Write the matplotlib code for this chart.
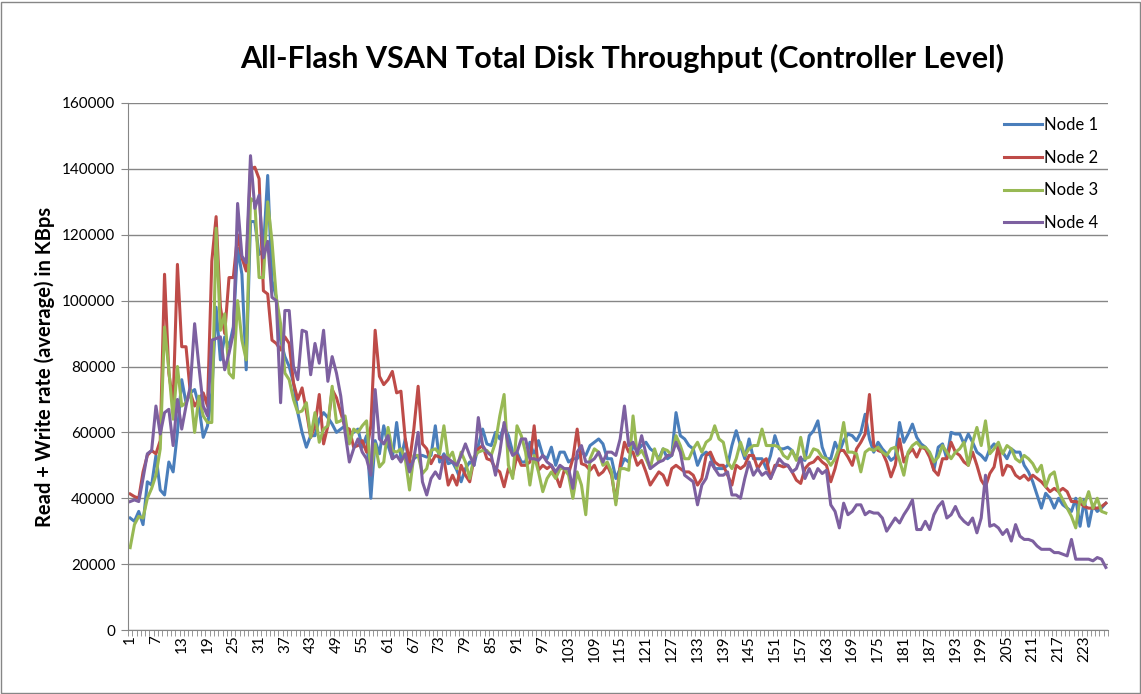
import matplotlib
matplotlib.use("Agg")
import matplotlib.pyplot as plt
import numpy as np
from matplotlib.lines import Line2D
from matplotlib.patches import Rectangle

plt.rcParams["font.family"] = ["Lato", "DejaVu Sans"]

TITLE = "All-Flash VSAN Total Disk Throughput (Controller Level)"
Y_LABEL = "Read + Write rate (average) in KBps"
SERIES_NAMES = ["Node 1", "Node 2", "Node 3", "Node 4"]
SERIES_COLORS = ["#4a7ebb", "#be4b48", "#98b954", "#7d60a0"]
Y_TICKS = [0, 20000, 40000, 60000, 80000, 100000, 120000, 140000, 160000]

# read + write rate per sample, KBps (samples 1..228)
node1 = [
    34000, 33000, 36000, 32000, 45000, 44000, 53000, 42500, 41000, 51000, 48000, 60000, 76000, 69000, 72000, 73000,
    68000, 58500, 62000, 72000, 98000, 82000, 89000, 86000, 92000, 116000, 108000, 79000, 124000, 124000, 114000,
    115500, 138000, 106000, 101000, 88000, 83000,
    80000, 75000, 66000, 60000, 55500, 59000, 59000, 64000, 66000, 64500, 62500, 60000, 61000, 62000, 60000, 60000,
    61000, 55500, 59000, 40000, 57500, 53500, 62000, 56000, 52000, 63000, 52000, 58000, 49500, 52000, 53000, 53000,
    52500, 53000, 62000, 51000, 53500, 50500,
    51000, 48500, 45000, 49000, 51000, 50000, 56000, 61000, 56500, 56000, 60000, 58000, 62000, 59000, 54000, 54000,
    51000, 51000, 57000, 53000, 57500, 53000, 52000, 55500, 50000, 54000, 54000, 51000, 52000, 52000, 54000, 53000,
    56000, 57000, 58000, 56500, 52000, 52000, 46000,
    49000, 52000, 51000, 56000, 54500, 56000, 57000, 55000, 54000, 52000, 55000, 52000, 53000, 66000, 59000, 58000,
    56000, 55000, 50000, 53000, 54000, 53000, 49000, 49000, 49000, 50000, 56000, 60500, 56000, 52000, 58000, 52000,
    52000, 52000, 49000, 53000, 59000,
    55000, 55000, 55500, 54500, 52000, 52000, 51500, 59000, 60500, 63500, 55500, 52000, 52000, 57000, 54000, 57500,
    59500, 59000, 57500, 60000, 65500, 58000, 54000, 57000, 55000, 53500, 51500, 52500, 63000, 57000, 59500, 62500,
    58500, 56500, 55500, 53500, 48500,
    55500, 56500, 52000, 60000, 59500, 59500, 56500, 59500, 57000, 54000, 53000, 51500, 55000, 56500, 55000, 54000,
    52000, 55000, 54000, 54000, 50000, 48000, 45000, 41000, 37000, 41500, 40000, 37000, 40000, 38000, 37000, 36000,
    40000, 31500, 39500, 31500, 38000, 36000, 37000, 38500,
]
node2 = [
    41300, 40500, 40000, 48000, 53000, 54500, 53500, 57500, 108000, 78000, 69000, 111000, 86000, 86000, 72000, 68000,
    70000, 72000, 68000, 112000, 125500, 98000, 90000, 107000, 107000, 120000, 113000, 109000, 140000, 140500, 137000,
    103000, 102000, 88000, 87000, 85000, 89000,
    87000, 75000, 70000, 73500, 66500, 58500, 62000, 71500, 56500, 62000, 73000, 70500, 66000, 61500, 61000, 55500,
    56000, 57500, 54000, 62000, 91000, 77000, 74500, 76000, 78500, 72000, 72500, 58000, 51000, 61000, 74000, 56500,
    55000, 50500, 53000, 52500, 52000, 44000,
    47000, 44000, 50000, 47000, 45000, 52000, 55000, 56000, 52000, 51500, 49000, 48000, 43500, 49000, 47000, 53000,
    50000, 50000, 51000, 62000, 48500, 50000, 49000, 50000, 47000, 43500, 48500, 47500, 52000, 61000, 50500, 50000,
    48500, 50000, 47000, 48000, 50000, 47000, 39000,
    50000, 57000, 54000, 54000, 50000, 51500, 48000, 44000, 46000, 48000, 47000, 44000, 49000, 50000, 49000, 48000,
    48000, 47000, 44000, 46000, 53000, 54000, 51000, 50000, 50000, 47000, 44000, 50000, 49000, 50000, 53000, 53000,
    49000, 51000, 52000, 46000, 50000,
    50000, 49500, 50000, 48000, 45500, 44500, 49000, 50500, 51000, 52500, 51000, 50000, 45000, 49000, 54500, 54500,
    52500, 50000, 55000, 57000, 59500, 71500, 56000, 54500, 54000, 51000, 46500, 50000, 58000, 51000, 53500, 55000,
    52500, 55500, 55000, 52500, 48500,
    47000, 52000, 52000, 57000, 54000, 53000, 51000, 50000, 54000, 50000, 45500, 43500, 47500, 49500, 56000, 47000,
    50000, 49500, 47000, 46000, 47000, 45500, 47000, 46000, 45000, 43500, 42000, 43000, 42000, 43000, 42000, 39000,
    39000, 38500, 37500, 37000, 37000, 37000, 37500, 38500,
]
node3 = [
    25000, 32000, 34500, 34000, 40000, 43000, 47000, 55000, 92000, 79000, 64000, 80000, 68000, 69000, 73000, 60000,
    71000, 65000, 63000, 63000, 122000, 91000, 96000, 78000, 76500, 100000, 88000, 82000, 131000, 130000, 107000,
    107000, 130000, 118000, 101000, 93000, 78000,
    76000, 70000, 66000, 66500, 69000, 58500, 66000, 57000, 61000, 62000, 74000, 63000, 63500, 65000, 56500, 61000,
    60000, 62000, 63500, 48000, 56500, 49500, 51000, 61500, 54500, 54000, 55000, 52000, 42500, 53000, 53000, 47500,
    49000, 54500, 55000, 53500, 62000, 52000,
    54000, 49000, 54000, 51000, 46000, 52500, 54000, 54500, 54500, 53000, 57000, 65000, 71500, 50000, 46000, 62000,
    59000, 54000, 44000, 53000, 48000, 42000, 46000, 48000, 46000, 49000, 49000, 47000, 40000, 48000, 44000, 35000,
    52000, 55000, 54000, 50000, 51000, 48000, 38000,
    49000, 49000, 48500, 65000, 53000, 54500, 52000, 49000, 55000, 51000, 55000, 54500, 53000, 59000, 56000, 52000,
    52000, 55000, 57000, 54000, 57000, 58000, 62000, 58000, 57000, 51000, 49000, 52000, 57000, 53000, 55000, 56000,
    56000, 61000, 56000, 56000, 56000,
    55500, 53000, 52000, 54500, 51500, 58500, 52000, 52500, 55000, 54500, 52500, 52000, 50000, 52000, 55500, 63000,
    54000, 54000, 53500, 48000, 54000, 55000, 54500, 55500, 54000, 53000, 55000, 55500, 51500, 47000, 54000, 56000,
    57000, 55500, 55500, 54000, 51000,
    52500, 56000, 54000, 52000, 54000, 55000, 57000, 50000, 57000, 61500, 56000, 63500, 53500, 55000, 57000, 53500,
    56000, 55000, 52000, 51000, 53000, 52000, 50500, 48000, 50000, 43500, 47000, 48000, 42000, 39500, 37000, 34500,
    31000, 40000, 38000, 42000, 37000, 40000, 36000, 35500,
]
node4 = [
    39000, 39500, 39000, 46000, 53500, 54500, 68000, 59500, 66000, 67000, 56000, 70000, 61000, 68000, 74000, 93000,
    80000, 68000, 65000, 88000, 88500, 89000, 79000, 84000, 90000, 129500, 113500, 111500, 144000, 128000, 132000,
    113000, 118000, 101000, 100000, 69000, 97000,
    97000, 80000, 76000, 91000, 90500, 77500, 87000, 81000, 91000, 75500, 83000, 78000, 71000, 60000, 51000, 55000,
    58000, 54000, 52000, 47000, 73000, 58000, 56500, 59000, 52000, 53000, 51000, 53500, 48000, 52000, 60000, 45000,
    41000, 46000, 48000, 46000, 53000, 52000,
    51000, 50000, 53000, 56500, 53000, 50000, 64500, 56000, 54000, 53000, 47000, 54000, 63000, 56000, 53000, 54000,
    58000, 58000, 52000, 52000, 51500, 53000, 51000, 50000, 48000, 50000, 49000, 49000, 43000, 54000, 56000, 51000,
    51000, 52000, 54000, 51000, 54000, 54000, 53000,
    58000, 68000, 56000, 57000, 53500, 59000, 53500, 49000, 50000, 51000, 51500, 53000, 53000, 57000, 54000, 47000,
    46000, 45000, 38000, 44000, 46000, 51000, 49000, 47000, 47000, 48000, 41000, 41000, 40000, 46000, 51000, 47000,
    49000, 47000, 48000, 46000, 49000,
    52000, 50500, 50000, 48000, 49000, 52500, 46000, 49000, 46000, 49000, 47500, 48500, 38000, 36000, 31000, 38500,
    35000, 36000, 38000, 38000, 35000, 36000, 35500, 35500, 34000, 30000, 32000, 34000, 32500, 35000, 37000, 39500,
    30500, 30500, 33000, 30500, 35000,
    37500, 39000, 34000, 35000, 37500, 34500, 33000, 32000, 34000, 29500, 34000, 47000, 31500, 32000, 31000, 29000,
    30500, 27000, 32000, 28500, 27500, 27500, 27000, 25500, 24500, 24500, 24500, 23500, 23500, 23000, 22500, 27500,
    21500, 21500, 21500, 21500, 21000, 22000, 21500, 19000,
]

W, H = 1141, 694
GRID = "#868686"

fig = plt.figure(figsize=(W / 100, H / 100), dpi=100)
ax = fig.add_axes([128 / W, 64 / H, 980 / W, 527 / H])

series = [node1, node2, node3, node4]
n = len(node1)
x = np.arange(1, n + 1)
for vals, name, color in zip(series, SERIES_NAMES, SERIES_COLORS):
    ax.plot(x, vals, color=color, lw=2.2, label=name, solid_joinstyle="round")

ax.set_xlim(0.5, n + 0.5)
ax.set_ylim(Y_TICKS[0], Y_TICKS[-1])
ax.set_yticks(Y_TICKS)
ax.set_yticklabels([str(v) for v in Y_TICKS], fontsize=11)
ax.yaxis.grid(True, color=GRID, lw=1)
ax.set_axisbelow(True)

# labels every 6th category, tick marks on category boundaries
ax.set_xticks(np.arange(1, n + 1, 6))
ax.set_xticklabels([str(v) for v in range(1, n + 1, 6)], rotation=90, fontsize=11)
ax.set_xticks(np.arange(0.5, n + 1, 1), minor=True)
ax.tick_params(axis="x", which="major", length=0, pad=4)
ax.tick_params(axis="x", which="minor", length=4, color=GRID)
ax.tick_params(axis="y", length=5, color=GRID, pad=4)

for side in ("top", "right"):
    ax.spines[side].set_visible(False)
for side in ("left", "bottom"):
    ax.spines[side].set_color(GRID)

handles = [Line2D([], [], color=c, lw=2.2) for c in SERIES_COLORS]
fig.legend(handles, SERIES_NAMES, loc="upper left", bbox_to_anchor=(989 / W, 1 - 102 / H),
           frameon=False, fontsize=12, handlelength=2.3, handletextpad=0.1, labelspacing=1.0)

fig.text(622 / W, 1 - 58 / H, TITLE, fontsize=22, fontweight="bold", ha="center", va="center")
fig.text(45 / W, 1 - 367 / H, Y_LABEL, fontsize=14.5, fontweight="bold", rotation=90, ha="center", va="center")

fig.add_artist(Rectangle((0.5 / W, 1.5 / H), (W - 2) / W, (H - 3) / H, transform=fig.transFigure,
                         fill=False, edgecolor=GRID, lw=1))

fig.savefig("out.png", dpi=100)
